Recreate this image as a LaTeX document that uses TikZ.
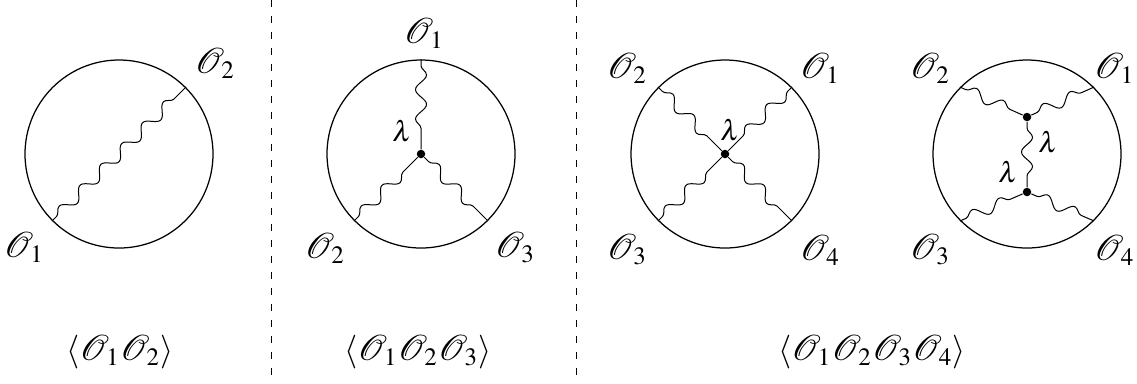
\documentclass[tikz,border=0pt]{standalone}
\usepackage{mathptmx}
\usepackage{mathrsfs}
\usetikzlibrary{decorations.pathmorphing}
\begin{document}
\begin{tikzpicture}[x=0.4pt,y=-0.4pt,
  prop/.style={decorate,decoration={snake,segment length=11.8pt,amplitude=2.2pt,pre length=2.5pt,post length=2.5pt}},
  lab/.style={font=\fontsize{13.5}{15}\selectfont, inner sep=0},
  cpl/.style={font=\fontsize{11.5}{13}\selectfont, inner sep=0},
  vtx/.style={circle,fill,inner sep=0,minimum size=3.4pt},
  bub/.style={circle,draw,line width=0.5pt,minimum size=75.2pt,inner sep=0},
  sep/.style={line width=0.4pt,dash pattern=on 2.8pt off 3.6pt}]
\useasboundingbox (0,0) rectangle (1137,383);
\fill[white] (0,0) rectangle (1137,383);
% separators
\coordinate (d1t) at (271,0); \coordinate (d1b) at (271,383);
\coordinate (d2t) at (576,0); \coordinate (d2b) at (576,383);
\draw[sep] (d1t) -- (d1b);
\draw[sep] (d2t) -- (d2b);
% diagram 1
\node[bub] (c1) at (119,154) {};
\draw[prop] (c1.225) -- (c1.45);
\node[lab] (a1) at (24,247) {$\mathscr{O}_1$};
\node[lab] (a2) at (215,63) {$\mathscr{O}_2$};
% diagram 2
\node[bub] (c2) at (421,154) {};
\node[vtx] (v2) at (421,154) {};
\draw[prop] (c2.90) -- (v2);
\draw[prop] (c2.225) -- (v2);
\draw[prop] (v2) -- (c2.-45);
\node[cpl] (g2) at (402,131) {$\lambda$};
\node[lab] (b1) at (424,33) {$\mathscr{O}_1$};
\node[lab] (b2) at (325,248) {$\mathscr{O}_2$};
\node[lab] (b3) at (515,248) {$\mathscr{O}_3$};
% diagram 3
\node[bub] (c3) at (725,154) {};
\node[vtx] (v3) at (725,154) {};
\draw[prop] (c3.45) -- (v3);
\draw[prop] (c3.135) -- (v3);
\draw[prop] (c3.225) -- (v3);
\draw[prop] (v3) -- (c3.-45);
\node[cpl] (g3) at (730,130) {$\lambda$};
\node[lab] (e2) at (627,68) {$\mathscr{O}_2$};
\node[lab] (e1) at (820,68) {$\mathscr{O}_1$};
\node[lab] (e3) at (627,250) {$\mathscr{O}_3$};
\node[lab] (e4) at (820,250) {$\mathscr{O}_4$};
% diagram 4
\node[bub] (c4) at (1027,154) {};
\node[vtx] (u4) at (1027,117) {};
\node[vtx] (w4) at (1027,192) {};
\draw[prop] (c4.135) -- (u4);
\draw[prop] (u4) -- (c4.45);
\draw[prop] (c4.225) -- (w4);
\draw[prop] (w4) -- (c4.-45);
\draw[prop] (u4) -- (w4);
\node[cpl] (g4a) at (1048,142) {$\lambda$};
\node[cpl] (g4b) at (1008,172) {$\lambda$};
\node[lab] (f2) at (930,68) {$\mathscr{O}_2$};
\node[lab,anchor=east] (f1) at (1135,68) {$\mathscr{O}_1$};
\node[lab] (f3) at (930,250) {$\mathscr{O}_3$};
\node[lab,anchor=east] (f4) at (1135,250) {$\mathscr{O}_4$};
% captions
\node[lab] (t1) at (120,352) {$\langle\mathscr{O}_1\mathscr{O}_2\rangle$};
\node[lab] (t2) at (418,352) {$\langle\mathscr{O}_1\mathscr{O}_2\mathscr{O}_3\rangle$};
\node[lab] (t3) at (872,352) {$\langle\mathscr{O}_1\mathscr{O}_2\mathscr{O}_3\mathscr{O}_4\rangle$};
\end{tikzpicture}
\end{document}
